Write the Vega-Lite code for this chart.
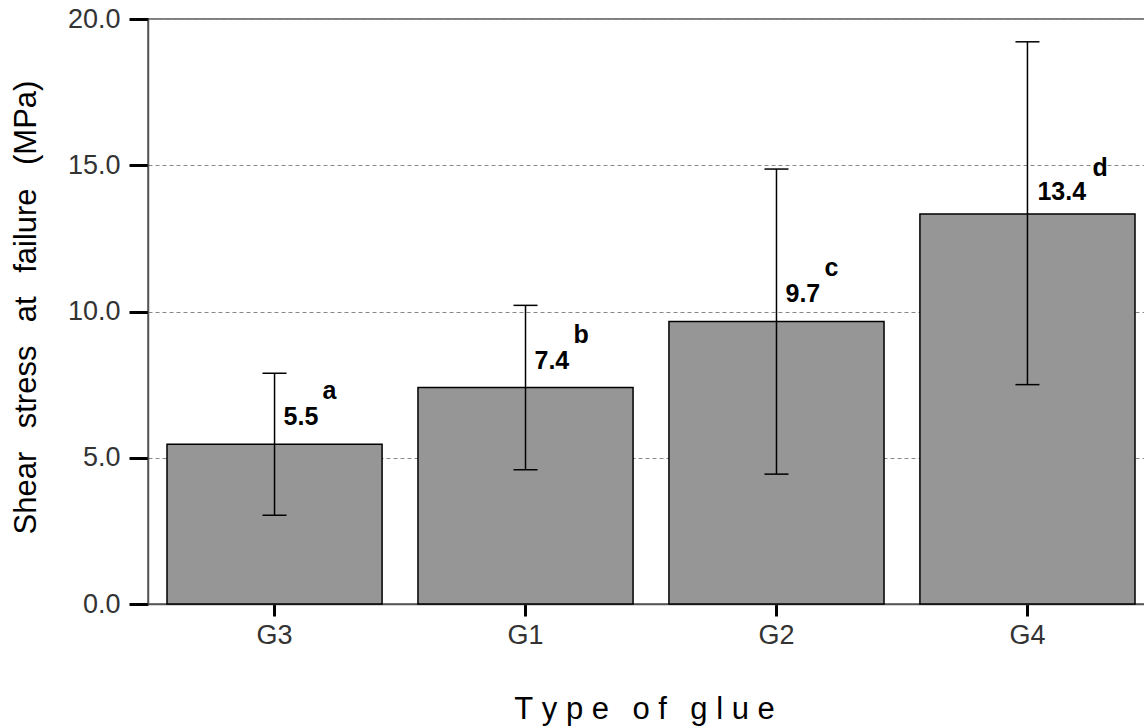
{
  "$schema": "https://vega.github.io/schema/vega-lite/v6.json",
  "autosize": "none",
  "width": 1006,
  "height": 585,
  "padding": {"left": 148, "top": 19, "right": 0, "bottom": 122},
  "background": "white",
  "config": {
    "font": "Liberation Sans",
    "view": {"stroke": "#555555", "strokeWidth": 1.5},
    "axis": {
      "domainColor": "#555555",
      "domainWidth": 1.5,
      "tickColor": "#000000",
      "tickWidth": 3,
      "labelFont": "Liberation Sans",
      "labelColor": "#333333",
      "labelFontSize": 27,
      "titleFont": "Liberation Sans",
      "titleFontWeight": "normal",
      "titleColor": "#000000",
      "titleFontSize": 31
    }
  },
  "data": {
    "values": [
      {"glue": "G3", "mean": 5.46, "lower": 3.03, "upper": 7.89, "label": "5.5", "sig": "a"},
      {"glue": "G1", "mean": 7.40, "lower": 4.59, "upper": 10.21, "label": "7.4", "sig": "b"},
      {"glue": "G2", "mean": 9.66, "lower": 4.44, "upper": 14.87, "label": "9.7", "sig": "c"},
      {"glue": "G4", "mean": 13.33, "lower": 7.50, "upper": 19.22, "label": "13.4", "sig": "d"}
    ]
  },
  "encoding": {
    "x": {
      "field": "glue",
      "type": "nominal",
      "sort": ["G3", "G1", "G2", "G4"],
      "scale": {"paddingInner": 0.143, "paddingOuter": 0.0757},
      "axis": {
        "title": "T\u00a0y\u00a0p\u00a0e\u00a0\u00a0\u2009o\u00a0f\u00a0\u00a0\u2009g\u00a0l\u00a0u\u00a0e",
        "titleX": 496,
        "titleY": 114,
        "titleAlign": "center",
        "titleBaseline": "alphabetic",
        "labelAngle": 0,
        "labelPadding": 6,
        "tickSize": 12,
        "grid": false
      }
    }
  },
  "layer": [
    {
      "mark": {"type": "bar", "fill": "#969696", "stroke": "#000000", "strokeWidth": 1.5},
      "encoding": {
        "y": {
          "field": "mean",
          "type": "quantitative",
          "scale": {"domain": [0, 20], "nice": false},
          "axis": {
            "title": "Shear\u00a0\u00a0\u2009stress\u00a0\u00a0\u2009at\u00a0\u00a0\u2009failure\u00a0\u00a0\u2009(MPa)",
            "values": [0, 5, 10, 15, 20],
            "format": ".1f",
            "tickSize": 19,
            "labelPadding": 9,
            "grid": true,
            "gridColor": "#888888",
            "gridDash": [4, 3],
            "gridWidth": 1,
            "titleAngle": -90,
            "titleX": -113,
            "titleY": 288,
            "titleAlign": "center",
            "titleBaseline": "alphabetic"
          }
        }
      }
    },
    {
      "mark": {"type": "rule", "color": "#000000", "strokeWidth": 1.5},
      "encoding": {
        "y": {"field": "lower", "type": "quantitative"},
        "y2": {"field": "upper"}
      }
    },
    {
      "mark": {"type": "tick", "color": "#000000", "size": 24, "thickness": 1.5, "opacity": 1},
      "encoding": {"y": {"field": "upper", "type": "quantitative"}}
    },
    {
      "mark": {"type": "tick", "color": "#000000", "size": 24, "thickness": 1.5, "opacity": 1},
      "encoding": {"y": {"field": "lower", "type": "quantitative"}}
    },
    {
      "transform": [{"filter": "datum.mean < 10"}],
      "mark": {"type": "text", "align": "left", "baseline": "alphabetic", "dx": 9, "dy": -19, "fontSize": 25, "fontWeight": "bold", "color": "#000000"},
      "encoding": {
        "y": {"field": "mean", "type": "quantitative"},
        "text": {"field": "label"}
      }
    },
    {
      "transform": [{"filter": "datum.mean >= 10"}],
      "mark": {"type": "text", "align": "left", "baseline": "alphabetic", "dx": 10, "dy": -14, "fontSize": 25, "fontWeight": "bold", "color": "#000000"},
      "encoding": {
        "y": {"field": "mean", "type": "quantitative"},
        "text": {"field": "label"}
      }
    },
    {
      "transform": [{"filter": "datum.mean < 10"}],
      "mark": {"type": "text", "align": "left", "baseline": "alphabetic", "dx": 48, "dy": -45, "fontSize": 25, "fontWeight": "bold", "color": "#000000"},
      "encoding": {
        "y": {"field": "mean", "type": "quantitative"},
        "text": {"field": "sig"}
      }
    },
    {
      "transform": [{"filter": "datum.mean >= 10"}],
      "mark": {"type": "text", "align": "left", "baseline": "alphabetic", "dx": 65, "dy": -38, "fontSize": 25, "fontWeight": "bold", "color": "#000000"},
      "encoding": {
        "y": {"field": "mean", "type": "quantitative"},
        "text": {"field": "sig"}
      }
    }
  ]
}
